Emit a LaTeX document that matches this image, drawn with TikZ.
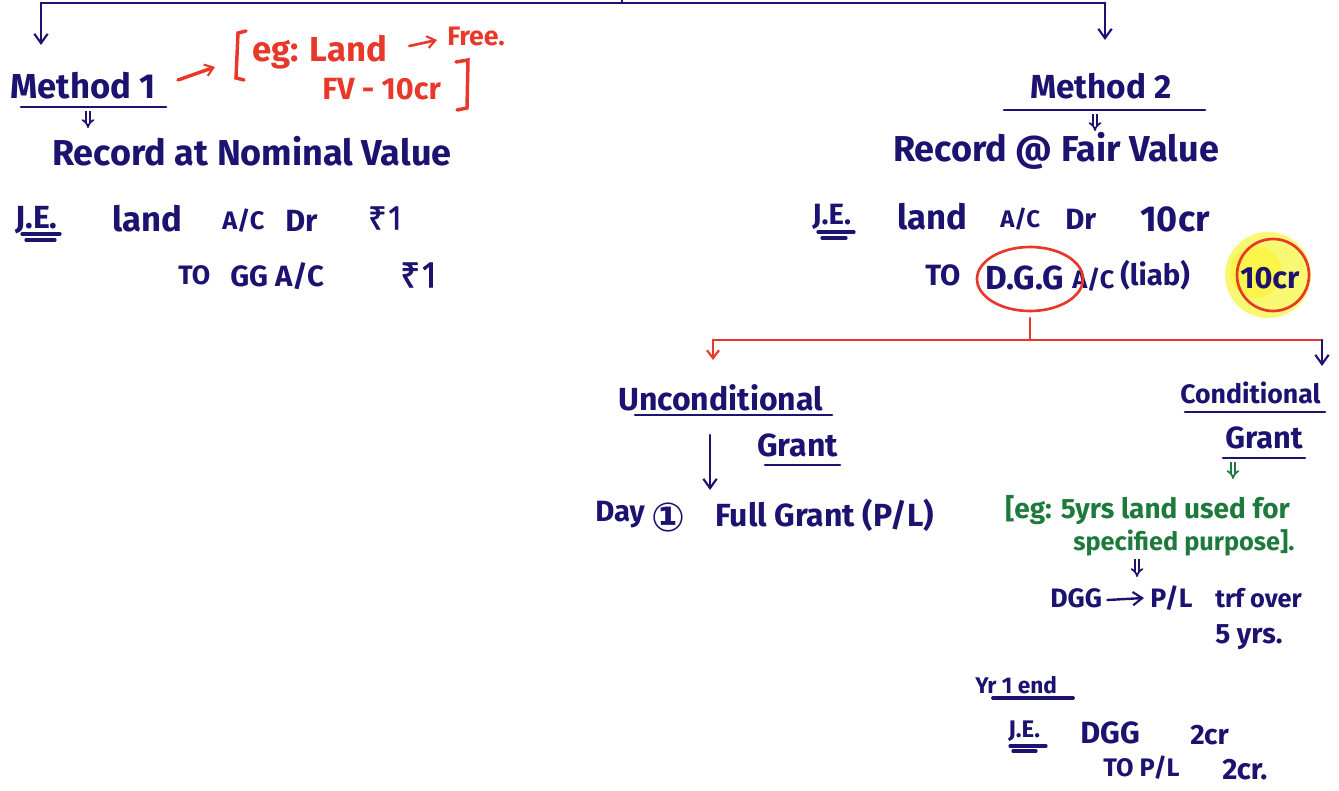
\documentclass[tikz,border=0pt]{standalone}
\usepackage{fontspec}
\setmainfont{Fira Sans}
\newfontfamily\symfont{DejaVu Sans}
\newfontfamily\rupfont{Noto Sans}[FakeBold=2]
\usetikzlibrary{arrows.meta,calc}
\definecolor{ink}{RGB}{28,18,112}
\definecolor{pen}{RGB}{232,56,42}
\definecolor{grn}{RGB}{30,122,60}
\definecolor{hl}{RGB}{248,246,80}
\begin{document}
\begin{tikzpicture}[x=0.75pt,y=-0.75pt,
 fs/.style={anchor=west,inner sep=0pt,text=ink,font=\fontsize{#1}{#1}\selectfont\bfseries},
 ln/.style={draw=ink,line width=2pt,line cap=round},
 rln/.style={draw=pen,line width=2pt,line cap=round},
 arr/.style={ln,-{Straight Barb[length=7pt,width=10pt,line width=1.6pt]}},
 rarr/.style={rln,-{Straight Barb[length=6pt,width=9pt,line width=1.6pt]}},
 dbl/.style={draw=ink,double,double distance=1.8pt,line width=1.3pt,-{Implies}},
 gdbl/.style={draw=grn,double,double distance=1.8pt,line width=1.3pt,-{Implies}},
]
\useasboundingbox (0,0) rectangle (1339,791);
% top bracket
\coordinate (tl) at (41,3); \coordinate (tr) at (1105,3);
\coordinate (tm) at (622,3); \coordinate (tmu) at (622,-2);
\coordinate (al) at (41,45); \coordinate (ar) at (1105,40);
\draw[ln] (tl) -- (tr);
\draw[ln] (tm) -- (tmu);
\draw[arr] (tl) -- (al);
\draw[arr] (tr) -- (ar);

% ---------- Method 1 ----------
\node[fs=26] (m1) at (10,86) {Method 1};
\draw[ln] (21,107) -- (166,107);
\coordinate (m1a) at (88,111); \coordinate (m1b) at (88,128);
\draw[dbl] (m1a) -- (m1b);
\node[fs=27] (rec1) at (52,151) {Record at Nominal Value};

% red example
\coordinate (ra1) at (178,80); \coordinate (ra2) at (215,67);
\draw[rarr,line width=2.6pt] (ra1) -- (ra2);
\draw[rln,line width=2.6pt] (246,31) -- (238,33) -- (236,78) -- (244,80);
\node[fs=26,text=pen] (eg1) at (252,52) {eg: Land};
\node[fs=20,text=pen] (free) at (447,36) {Free.};
\draw[rarr,line width=2pt] ($(eg1.east)+(22,-6)$) -- ($(free.west)+(-10,4)$);
\node[fs=23,text=pen] (fv) at (322,89) {FV - 10cr};
\draw[rln,line width=2.6pt] (456,62) -- (468,60) -- (467,108) -- (457,110);

% J.E. left
\node[fs=24] (je1) at (15,220) {J.E.};
\draw[ln,line width=2.4pt] (22,234) -- (60,234);
\draw[ln,line width=2.4pt] (26,240) -- (55,240);
\node[fs=26] (land1) at (112,219) {land};
\node[fs=19] (ac1) at (222,221) {A/C};
\node[fs=23] (dr1) at (285,221) {Dr};
\node[fs=24] (r11) at (368,218) {\rupfont ₹1};
\node[fs=20] (to1) at (178,275) {TO};
\node[fs=22] (gg1) at (230,276) {GG A/C};
\node[fs=26] (r12) at (400,275) {\rupfont ₹1};

% ---------- Method 2 ----------
\node[fs=25] (m2) at (1030,86) {Method 2};
\draw[ln] (1004,110) -- (1205,110);
\coordinate (m2a) at (1095,114); \coordinate (m2b) at (1095,131);
\draw[dbl] (m2a) -- (m2b);
\node[fs=27] (rec2) at (893,151) {Record @ Fair Value};

\node[fs=22] (je2) at (812,217) {J.E.};
\draw[ln,line width=2.4pt] (818,232) -- (854,232);
\draw[ln,line width=2.4pt] (822,238) -- (846,238);
\node[fs=26] (land2) at (897,217) {land};
\node[fs=18] (ac2) at (1000,219) {A/C};
\node[fs=22] (dr2) at (1065,219) {Dr};
\node[fs=27] (cr2) at (1140,219) {10cr};

% highlight
\fill[hl,opacity=0.8] (1268,275) circle (43);
\fill[yellow,opacity=0.35] (1256,272) circle (26);
\draw[pen,line width=2pt] (1273,275) circle (36);
\node[fs=22] (to2) at (925,275) {TO};
\node[fs=25] (dgg) at (985,278) {D.G.G};
\node[fs=19] (ac3) at (1072,280) {A/C};
\node[fs=22] (liab) at (1120,275) {(liab)};
\node[fs=23] (cr3) at (1240,278) {10cr};
\draw[pen,line width=2pt] (1030,279) ellipse (53 and 32);

% red split
\coordinate (rv1) at (1030,318); \coordinate (rv2) at (1030,340);
\coordinate (rl) at (713,340); \coordinate (rr) at (1322,340);
\coordinate (rla) at (713,360); \coordinate (rra) at (1322,366);
\draw[rln] (rv1) -- (rv2);
\draw[rln] (rl) -- (rr);
\draw[rarr] (rl) -- (rla);
\draw[arr] (rr) -- (rra);

% Unconditional
\node[fs=24] (unc) at (618,398) {Unconditional};
\draw[ln] (635,415) -- (832,415);
\node[fs=24] (ug) at (757,445) {Grant};
\draw[ln] (765,465) -- (840,465);
\coordinate (ua1) at (710,435); \coordinate (ua2) at (710,490);
\draw[arr] (ua1) -- (ua2);
\node[fs=22] (day) at (595,515) {Day};
\node[fs=30] (one) at (651,517) {\symfont ①};
\node[fs=24] (full) at (715,515) {Full Grant (P/L)};

% Conditional
\node[fs=20] (cond) at (1180,393) {Conditional};
\draw[ln] (1185,412) -- (1325,412);
\node[fs=23] (cg) at (1225,438) {Grant};
\draw[ln] (1223,458) -- (1305,458);
\coordinate (ga1) at (1233,462); \coordinate (ga2) at (1233,479);
\draw[gdbl] (ga1) -- (ga2);
\node[fs=21,text=grn] (eg2) at (1005,510) {[eg: 5yrs land used for};
\node[fs=19,text=grn] (spec) at (1073,543) {specified purpose].};
\coordinate (da1) at (1137,559); \coordinate (da2) at (1137,577);
\draw[dbl] (da1) -- (da2);
\node[fs=20] (dgg2) at (1050,598) {DGG};
\node[fs=20] (pl) at (1150,598) {P/L};
\draw[arr,line width=1.8pt] ($(dgg2.east)+(5,2)$) -- ($(pl.west)+(-6,0)$);
\node[fs=19] (trf) at (1215,598) {trf over};
\node[fs=21] (five) at (1215,637) {5 yrs.};

% Yr 1 end
\node[fs=17] (yr) at (975,685) {Yr 1 end};
\draw[ln,line width=2.8pt] (993,698) -- (1073,698);
\node[fs=18] (je3) at (1008,731) {J.E.};
\draw[ln,line width=2.4pt] (1010,746) -- (1046,746);
\draw[ln,line width=2.4pt] (1013,751) -- (1036,751);
\node[fs=23] (dgg3) at (1080,733) {DGG};
\node[fs=21] (cr4) at (1190,735) {2cr};
\node[fs=19] (to3) at (1103,768) {TO P/L};
\node[fs=22] (cr5) at (1222,770) {2cr.};
\end{tikzpicture}
\end{document}
